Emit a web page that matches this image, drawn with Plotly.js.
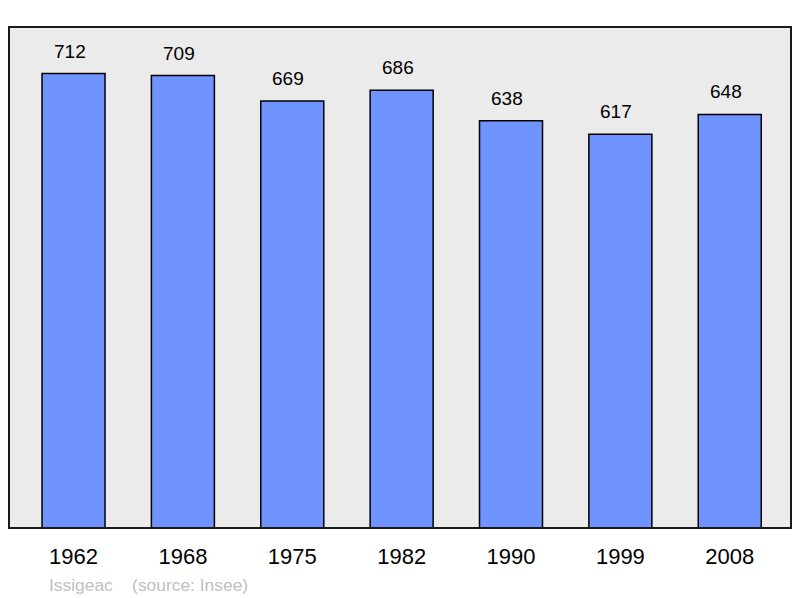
<!DOCTYPE html>
<html>
<head>
<meta charset="utf-8">
<script src="https://cdn.plot.ly/plotly-3.0.1.min.js"></script>
<style>html,body{margin:0;padding:0;background:#fff;}#chart{width:800px;height:598px;}</style>
</head>
<body>
<div id="chart"></div>
<script>
const years = ["1962", "1968", "1975", "1982", "1990", "1999", "2008"];
const population = [712, 709, 669, 686, 638, 617, 648];
const footerText = "Issigeac    (source: Insee)";

const trace = {
  type: "bar",
  x: years,
  y: population,
  marker: { color: "#7094ff", line: { color: "#000000", width: 1.5 } },
  hoverinfo: "none"
};

const annotations = years.map((yr, i) => ({
  x: i, y: population[i], xref: "x", yref: "y",
  text: String(population[i]), showarrow: false,
  yanchor: "bottom", yshift: 10, xshift: -4,
  font: { family: "Liberation Sans, Arial, sans-serif", size: 19, color: "#000" }
}));
annotations.push({
  x: (47 - 9) / 782, y: (528 - 585) / 501, xref: "paper", yref: "paper",
  text: footerText, showarrow: false,
  xanchor: "left", yanchor: "middle",
  font: { family: "Liberation Sans, Arial, sans-serif", size: 17.4, color: "#c0c0c0" }
});

const layout = {
  width: 800, height: 598,
  margin: { l: 9, r: 9, t: 27, b: 70 },
  paper_bgcolor: "#ffffff",
  plot_bgcolor: "#ebebeb",
  bargap: 0.424,
  showlegend: false,
  xaxis: {
    type: "category",
    range: [-0.59, 6.56],
    showgrid: false, zeroline: false, showline: false,
    ticks: "", ticklabelstandoff: 13,
    tickfont: { family: "Liberation Sans, Arial, sans-serif", size: 22, color: "#000" }
  },
  yaxis: {
    range: [0, 785],
    showgrid: false, zeroline: false, showline: false, showticklabels: false, ticks: ""
  },
  annotations: annotations,
  shapes: [{
    type: "rect", xref: "paper", yref: "paper", x0: 0, x1: 1, y0: 0, y1: 1,
    line: { color: "#1a1a1a", width: 2 }, fillcolor: "rgba(0,0,0,0)"
  }]
};

Plotly.newPlot("chart", [trace], layout, { displayModeBar: false, staticPlot: true });
</script>
</body>
</html>
